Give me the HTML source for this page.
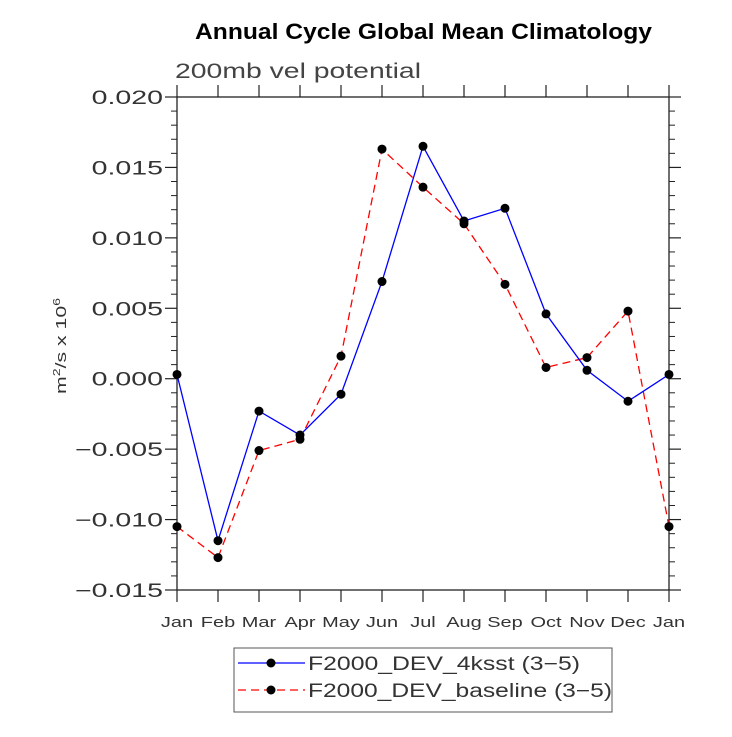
<!DOCTYPE html>
<html><head><meta charset="utf-8"><style>
body{margin:0;background:#fff;}
text{font-family:"Liberation Sans","DejaVu Sans",sans-serif;}
</style></head><body>
<svg id="c" width="732" height="732" viewBox="0 0 732 732">
<text x="195" y="39" textLength="457" lengthAdjust="spacingAndGlyphs" font-size="22" font-weight="bold">Annual Cycle Global Mean Climatology</text>
<text x="175" y="78" textLength="246" lengthAdjust="spacingAndGlyphs" font-size="21" fill="#444">200mb vel potential</text>
<text transform="translate(66,346) rotate(-90)" text-anchor="middle" font-size="15" fill="#333" textLength="96" lengthAdjust="spacingAndGlyphs">m<tspan font-size="10" dy="-6">2</tspan><tspan dy="6">/s x 10</tspan><tspan font-size="10" dy="-6">6</tspan></text>
<g id="axes"></g>
<g id="series"></g>
<g>
<rect x="234" y="648" width="378" height="64" fill="#fff" stroke="#555" stroke-width="1"/>
<line x1="238" y1="663" x2="305" y2="663" stroke="#0000ff" stroke-width="1.3"/>
<circle cx="271" cy="663" r="4.5" fill="#000"/>
<text x="308" y="670" font-size="19" fill="#333" textLength="272" lengthAdjust="spacingAndGlyphs">F2000_DEV_4ksst (3−5)</text>
<line x1="238" y1="690" x2="305" y2="690" stroke="#ff0000" stroke-width="1.3" stroke-dasharray="8,5"/>
<circle cx="271" cy="690" r="4.5" fill="#000"/>
<text x="308" y="697" font-size="19" fill="#333" textLength="304" lengthAdjust="spacingAndGlyphs">F2000_DEV_baseline (3−5)</text>
</g>
</svg>
<script>
const months=["Jan","Feb","Mar","Apr","May","Jun","Jul","Aug","Sep","Oct","Nov","Dec","Jan"];
const yTicks=[0.020,0.015,0.010,0.005,0.000,-0.005,-0.010,-0.015];
const yTickLabels=["0.020","0.015","0.010","0.005","0.000","−0.005","−0.010","−0.015"];
const ksst=[0.0003,-0.0115,-0.0023,-0.0040,-0.0011,0.0069,0.0165,0.0112,0.0121,0.0046,0.0006,-0.0016,0.0003];
const baseline=[-0.0105,-0.0127,-0.0051,-0.0043,0.0016,0.0163,0.0136,0.0110,0.0067,0.0008,0.0015,0.0048,-0.0105];
const L=177,R=669,T=97,B=590,yMin=-0.015,yMax=0.020;
const NS="http://www.w3.org/2000/svg";
const xs=i=>L+(R-L)*i/(months.length-1);
const ys=v=>T+(yMax-v)/(yMax-yMin)*(B-T);
function mk(tag,attrs,parent){const e=document.createElementNS(NS,tag);for(const k in attrs)e.setAttribute(k,attrs[k]);parent.appendChild(e);return e;}
function stretch(el,f){const w=el.getComputedTextLength();el.setAttribute('textLength',w*f);el.setAttribute('lengthAdjust','spacingAndGlyphs');}
const ax=document.getElementById('axes');
const frame=mk('rect',{x:L,y:T,width:R-L,height:B-T,fill:'none',stroke:'#222','stroke-width':1.3},ax);


months.forEach((m,i)=>{
  const x=xs(i);
  const t1=mk('line',{x1:x,y1:B,x2:x,y2:B+12,stroke:'#222','stroke-width':1.2},ax);
  
  
  const t2=mk('line',{x1:x,y1:T,x2:x,y2:T-12,stroke:'#222','stroke-width':1.2},ax);
  
  
  const tx=mk('text',{x:x,y:627,'text-anchor':'middle','font-size':15,fill:'#333'},ax);
  tx.textContent=m;
  
  
  stretch(tx,1.33);
});
for(let k=0;k<=35;k++){
  const v=yMin+k*0.001, y=ys(v), major=(k%5===0), len=major?12:6;
  [[L,L-len],[R,R+len]].forEach(p=>{
    const t=mk('line',{x1:p[0],y1:y,x2:p[1],y2:y,stroke:'#222','stroke-width':major?1.2:1},ax);
    
    
  });
}
yTicks.forEach((v,i)=>{
  const tx=mk('text',{x:163,y:ys(v)+7,'text-anchor':'end','font-size':19,fill:'#333'},ax);
  tx.textContent=yTickLabels[i];
  
  
  stretch(tx,1.5);
});
const sg=document.getElementById('series');
function series(data,color,dash,name){
  const g=mk('g',{},sg);
  
  
  const pts=data.map((v,i)=>xs(i)+','+ys(v)).join(' ');
  const pl=mk('polyline',{points:pts,fill:'none',stroke:color,'stroke-width':1.3,'stroke-dasharray':dash},g);
  
  
  data.forEach((v,i)=>{
    const c=mk('circle',{cx:xs(i),cy:ys(v),r:4.5,fill:'#000'},g);
    
    
  });
}
series(baseline,'#ff0000','8,5','series-baseline');
series(ksst,'#0000ff','none','series-4ksst');
</script>
</body></html>
